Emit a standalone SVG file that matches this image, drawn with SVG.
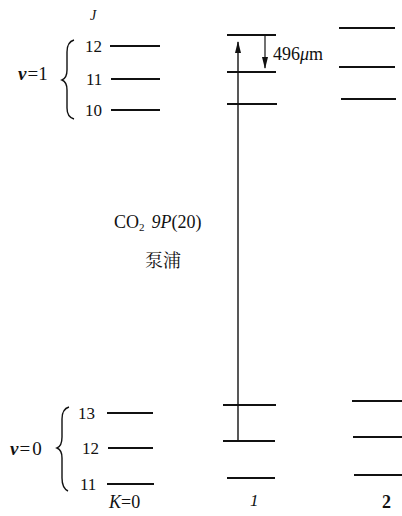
<svg xmlns="http://www.w3.org/2000/svg" width="402" height="516" viewBox="0 0 402 516">
<style>
.lv{stroke:#111;stroke-width:2;fill:none}
.br{stroke:#111;stroke-width:1.4;fill:none}
.it{font-style:italic}
</style>
<defs>
<marker id="ah" markerWidth="12" markerHeight="6" refX="11" refY="3" orient="auto" markerUnits="userSpaceOnUse" viewBox="0 0 12 6">
<path d="M0,0 L12,3 L0,6 Z" fill="#111"/>
</marker>
</defs>
<rect width="402" height="516" fill="#fff"/>
<g font-family="Liberation Serif" font-size="17" fill="#111">
<g id="left-v1">
<text x="90" y="20" class="it" font-size="14">J</text>
<text x="85" y="52">12</text>
<text x="86" y="85">11</text>
<text x="85" y="116">10</text>
<line class="lv" x1="110" y1="46" x2="160" y2="46"/>
<line class="lv" x1="111" y1="79" x2="160" y2="79"/>
<line class="lv" x1="111" y1="110" x2="160" y2="110"/>
<text x="18" y="80" font-size="19"><tspan class="it" font-weight="bold">v</tspan><tspan dx="1">=1</tspan></text>
<path class="br" d="M74,40 Q67,42 67,52 L67,70 Q67,78 62,80 Q67,82 67,90 L67,108 Q67,117 74,119"/>
</g>
<g id="left-v0">
<text x="78" y="419">13</text>
<text x="82" y="454">12</text>
<text x="80" y="490">11</text>
<line class="lv" x1="107" y1="413" x2="153" y2="413"/>
<line class="lv" x1="108" y1="448" x2="153" y2="448"/>
<line class="lv" x1="107" y1="484" x2="154" y2="484"/>
<text x="10" y="455" font-size="19"><tspan class="it" font-weight="bold">v</tspan><tspan dx="1">=</tspan><tspan dx="2">0</tspan></text>
<path class="br" d="M69,407 Q62,409 62,419 L62,437 Q62,446 57,448 Q62,450 62,458 L62,478 Q62,488 68,491"/>
<text x="109" y="508" font-size="18"><tspan class="it">K</tspan>=0</text>
</g>
<g id="col1">
<line class="lv" x1="227" y1="35" x2="276" y2="35"/>
<line class="lv" x1="227" y1="72" x2="276" y2="72"/>
<line class="lv" x1="227" y1="104" x2="277" y2="104"/>
<line class="lv" x1="223" y1="405" x2="276" y2="405"/>
<line class="lv" x1="223" y1="441" x2="275" y2="441"/>
<line class="lv" x1="227" y1="478" x2="275" y2="478"/>
<text x="250" y="506" class="it">1</text>
</g>
<g id="col2">
<line class="lv" x1="339" y1="28" x2="395" y2="28"/>
<line class="lv" x1="339" y1="67" x2="395" y2="67"/>
<line class="lv" x1="341" y1="99" x2="396" y2="99"/>
<line class="lv" x1="352" y1="401" x2="402" y2="401"/>
<line class="lv" x1="353" y1="437" x2="402" y2="437"/>
<line class="lv" x1="354" y1="475" x2="402" y2="475"/>
<text x="382" y="508" font-weight="bold" font-size="18">2</text>
</g>
<g id="connectors">
<line x1="238" y1="441" x2="238" y2="42" stroke="#111" stroke-width="1.4" marker-end="url(#ah)"/>
<line x1="265" y1="35" x2="265" y2="68" stroke="#111" stroke-width="1.2" marker-end="url(#ah)"/>
</g>
<g id="labels">
<text x="273" y="60" font-size="18">496<tspan class="it">μ</tspan>m</text>
<text x="114" y="228" font-size="18">CO<tspan font-size="11" dy="3">2</tspan><tspan dy="-3" dx="7" class="it">9P</tspan>(20)</text>
<text x="145" y="267" font-family="Noto Serif CJK SC, Noto Sans CJK SC, serif" font-size="18">泵浦</text>
</g>
</g>
</svg>
